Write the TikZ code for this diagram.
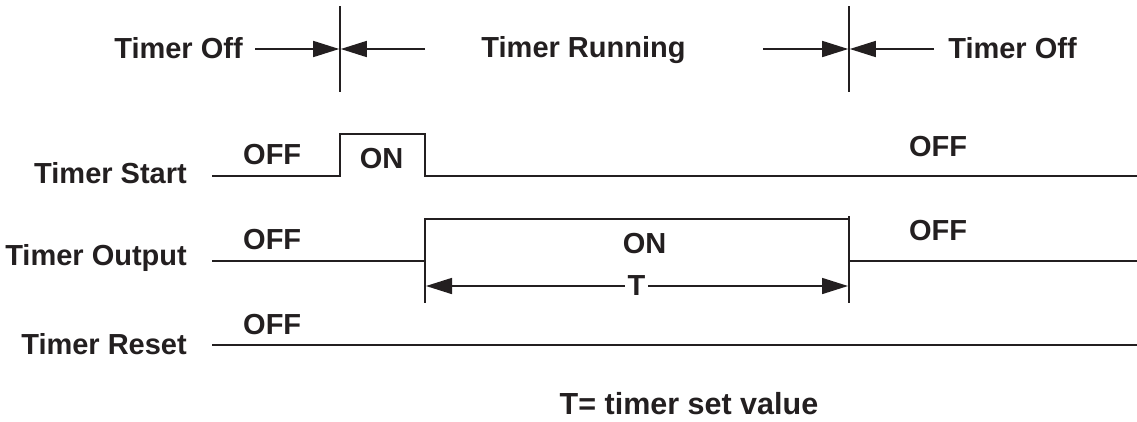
\documentclass[tikz,border=0pt]{standalone}
\usepackage{fontspec}
\setmainfont{Liberation Sans}
\usetikzlibrary{arrows.meta}
\definecolor{ink}{HTML}{231F20}
\begin{document}
\begin{tikzpicture}[x=1pt,y=-1pt,
  sig/.style={draw=ink,line width=1.6pt,line join=miter},
  thin/.style={draw=ink,line width=1.6pt},
  tip/.style={-{Triangle[length=26pt,width=16pt]}},
  lbl/.style={text=ink,inner sep=0pt,font=\fontsize{29}{35}\selectfont\bfseries}]
\useasboundingbox (0,0) rectangle (1137,421);
% phase markers
\coordinate (m1t) at (340,6); \coordinate (m1b) at (340,92);
\coordinate (m2t) at (849,6); \coordinate (m2b) at (849,92);
\draw[thin] (m1t) -- (m1b);
\draw[thin] (m2t) -- (m2b);
\coordinate (a1s) at (255,49); \coordinate (a1e) at (339.2,49);
\coordinate (a2s) at (425,49); \coordinate (a2e) at (340.8,49);
\coordinate (a3s) at (763,49); \coordinate (a3e) at (848.2,49);
\coordinate (a4s) at (934,49); \coordinate (a4e) at (849.8,49);
\draw[thin,tip] (a1s) -- (a1e);
\draw[thin,tip] (a2s) -- (a2e);
\draw[thin,tip] (a3s) -- (a3e);
\draw[thin,tip] (a4s) -- (a4e);
\node[lbl,anchor=base] (toff1) at (178.5,58) {Timer Off};
\node[lbl,anchor=base] (trun) at (583.5,57) {Timer Running};
\node[lbl,anchor=base] (toff2) at (1012.5,58) {Timer Off};
% row labels
\node[lbl,anchor=base east] (lstart) at (187,183) {Timer Start};
\node[lbl,anchor=base east] (lout) at (187,265) {Timer Output};
\node[lbl,anchor=base east] (lreset) at (187,354) {Timer Reset};
% Timer Start waveform
\coordinate (s0) at (212,176);
\coordinate (s1) at (340,176);
\coordinate (s2) at (340,134);
\coordinate (s3) at (425,134);
\coordinate (s4) at (425,176);
\coordinate (s5) at (1137,176);
\draw[sig] (s0) -- (s1) -- (s2) -- (s3) -- (s4) -- (s5);
\node[lbl,anchor=base west] (soff1) at (243,164) {OFF};
\node[lbl,anchor=base] (son) at (381.5,168) {ON};
\node[lbl,anchor=base] (soff2) at (938,156) {OFF};
% Timer Output waveform
\coordinate (o0) at (212,261);
\coordinate (o1) at (425,261);
\coordinate (o2) at (425,219);
\coordinate (o3) at (849,219);
\coordinate (o4) at (849,261);
\coordinate (o5) at (1137,261);
\draw[sig] (o0) -- (o1) -- (o2) -- (o3) -- (o4) -- (o5);
\coordinate (e1) at (425,303);
\coordinate (e2t) at (849,216);
\coordinate (e2) at (849,303);
\draw[thin] (o1) -- (e1);
\draw[thin] (e2t) -- (e2);
\node[lbl,anchor=base west] (ooff1) at (243,249) {OFF};
\node[lbl,anchor=base] (oon) at (644.5,253) {ON};
\node[lbl,anchor=base] (ooff2) at (938,240) {OFF};
% T dimension
\coordinate (t1) at (426,286);
\coordinate (t2) at (848,286);
\draw[thin,{Triangle[length=26pt,width=16pt]}-{Triangle[length=26pt,width=16pt]}] (t1) -- (t2);
\node[lbl,anchor=base,fill=white,inner xsep=2.5pt] (tlab) at (636.5,295) {T};
% Timer Reset waveform
\coordinate (r0) at (212,345);
\coordinate (r1) at (1137,345);
\draw[sig] (r0) -- (r1);
\node[lbl,anchor=base west] (roff) at (243,334) {OFF};
% legend
\node[lbl,anchor=base,font=\fontsize{30.5}{36}\selectfont\bfseries] (legend) at (689,414) {T= timer set value};
\end{tikzpicture}
\end{document}
